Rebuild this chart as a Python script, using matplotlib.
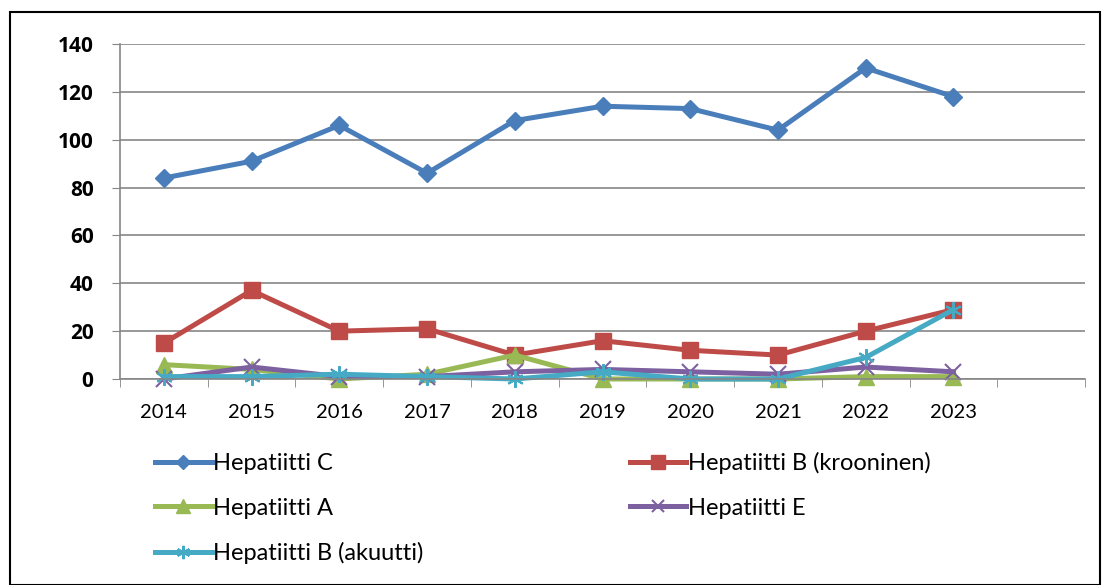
import numpy as np
import matplotlib.pyplot as plt
from matplotlib.patches import Rectangle

years = ["2014", "2015", "2016", "2017", "2018", "2019", "2020", "2021", "2022", "2023"]
hep_c = [84, 91, 106, 86, 108, 114, 113, 104, 130, 118]
hep_b_chronic = [15, 37, 20, 21, 10, 16, 12, 10, 20, 29]
hep_a = [6, 4, 0, 2, 10, 0, 0, 0, 1, 1]
hep_e = [0, 5, 1, 1, 3, 4, 3, 2, 5, 3]
hep_b_acute = [1, 1, 2, 1, 0, 3, 0, 0, 9, 29]

plt.rcParams['font.family'] = ['Lato', 'DejaVu Sans']

fig = plt.figure(figsize=(11.09, 5.85), dpi=100)
fig.patches.append(Rectangle((10 / 1109, 0), 1090 / 1109, 1 - 12 / 585,
                             transform=fig.transFigure, fill=False,
                             edgecolor='black', linewidth=1.5))

ax = fig.add_axes([120 / 1109, 1 - 379 / 585, 965 / 1109, 335 / 585])
x = np.arange(len(years))

lw = 3.6
c = ax.plot(x, hep_c, color='#4a7ebb', lw=lw, marker='D', ms=9, label='Hepatiitti C')
bc = ax.plot(x, hep_b_chronic, color='#be4b48', lw=lw, marker='s', ms=12,
             label='Hepatiitti B (krooninen)')
a = ax.plot(x, hep_a, color='#98b954', lw=lw, marker='^', ms=12, label='Hepatiitti A')
e = ax.plot(x, hep_e, color='#7d60a0', lw=lw, marker='x', ms=11, mew=1.5,
            label='Hepatiitti E')
ba = ax.plot(x, hep_b_acute, color='#46aac5', lw=lw, marker=(6, 2, 0), ms=12, mew=1.5,
             label='Hepatiitti B (akuutti)')
for ln in c + bc + a + e + ba:
    ln.set_clip_on(False)

ax.set_xlim(-0.5, 10.5)
ax.set_ylim(0, 140)
ax.set_yticks(range(0, 141, 20))
ax.set_yticklabels([str(v) for v in range(0, 141, 20)], fontweight='bold', fontsize=15,
                   family='Open Sans')
ax.set_xticks(x)
ax.set_xticklabels(years, fontsize=14.5)
ax.set_xticks(np.arange(-0.5, 11, 1), minor=True)
ax.tick_params(axis='x', which='major', length=0, pad=18)
ax.tick_params(axis='x', which='minor', length=6, color='#868686', direction='out')
ax.tick_params(axis='y', length=6, color='#868686', pad=13)
ax.grid(axis='y', color='#868686', lw=1.2)
ax.set_axisbelow(True)
for s in ['top', 'right']:
    ax.spines[s].set_visible(False)
ax.spines['left'].set_color('#868686')
ax.spines['bottom'].set_color('#868686')
ax.spines['left'].set_linewidth(1.2)
ax.spines['bottom'].set_linewidth(1.2)

handles = [c[0], a[0], ba[0], bc[0], e[0]]
leg = fig.legend(handles=handles, labels=[h.get_label() for h in handles],
                 ncol=2, loc='upper left', bbox_to_anchor=(155 / 1109, 1 - 452 / 585),
                 borderaxespad=0, borderpad=0,
                 frameon=False, fontsize=17, handlelength=2.4, handletextpad=0.05,
                 columnspacing=8.75, labelspacing=1.0, markerscale=0.8)

fig.savefig('out.png', dpi=100)
